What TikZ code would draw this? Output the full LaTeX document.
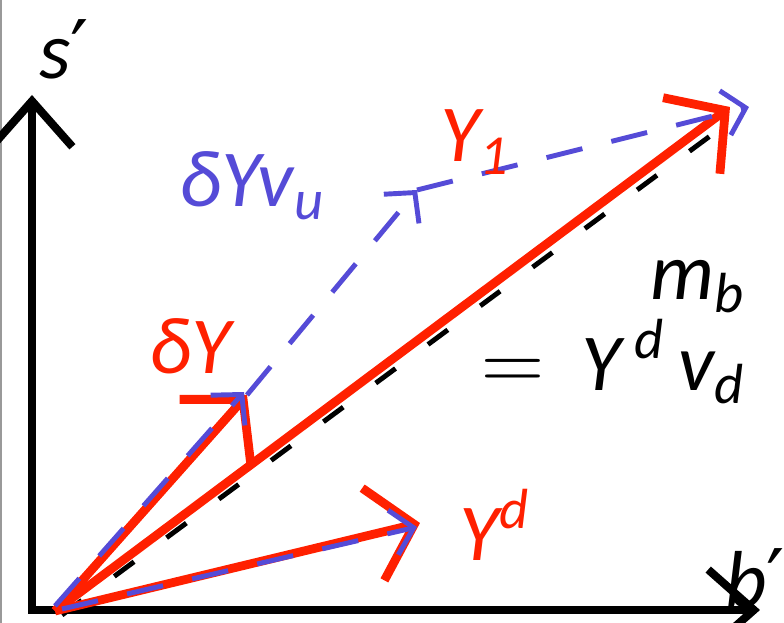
\documentclass[tikz,border=0pt]{standalone}
\usepackage{fontspec}
\setmainfont{Carlito}
\newfontfamily\primefont{DejaVu Sans}
\usetikzlibrary{arrows.meta}

\definecolor{vecred}{RGB}{255,32,0}
\definecolor{vecblue}{RGB}{85,75,215}

\newcommand{\prm}{{\primefont\upshape ′}}

\begin{document}
\begin{tikzpicture}[
  axis/.style={line width=2.3pt, line join=miter,
    {Straight Barb[length=13pt, width=23pt]}-{Straight Barb[length=13pt, width=23pt]}},
  redvec/.style={vecred, line width=2.5pt, -{Straight Barb[length=12pt, width=27pt]}},
  bluevec/.style={vecblue, line width=1.4pt, dash pattern=on 10.5pt off 8.5pt,
    -{Straight Barb[length=6pt, width=13pt]}},
  mbline/.style={black, line width=1.4pt, dash pattern=on 7pt off 11.5pt},
  lbl/.style={font=\fontsize{23}{26}\selectfont\itshape, inner sep=0pt}
]
\useasboundingbox (0,0) rectangle (7.84,6.23);

% ── frame edge ──
\draw[black!40, line width=0.6pt] (0.01,0) -- (0.01,6.23);

% ── Points ──
\coordinate (O)    at (0.32,0.13);
\coordinate (sTop) at (0.32,5.28);
\coordinate (bEnd) at (7.60,0.13);
\coordinate (R)    at (0.55,0.12);
\coordinate (tipY1) at (7.30,5.16);
\coordinate (tipdY) at (2.47,2.28);
\coordinate (tipYd) at (4.20,1.00);
\coordinate (P)     at (4.17,4.33);
\coordinate (endY1) at (7.49,5.16);
\coordinate (mbA) at (0.62,0.08);
\coordinate (mbB) at (7.25,4.98);
\coordinate (bdA) at (0.55,0.17);
\coordinate (bdB) at (2.44,2.31);
\coordinate (byA) at (0.62,0.14);
\coordinate (byB) at (4.17,0.96);

% ── Axes ──
\draw[axis] (sTop) -- (O) -- (bEnd);
\node[lbl, black] (sLbl) at (0.64,5.74) {s\prm};
\node[lbl, black] (bLbl) at (7.55,0.45) {b\prm};

% ── m_b = Y^d v_d (under Y_1) ──
\draw[mbline] (mbA) -- (mbB);

% ── Red vectors ──
\draw[redvec] (R) -- (tipY1);
\draw[redvec] (R) -- (tipdY);
\draw[redvec] (R) -- (tipYd);

% ── Blue vectors ──
\draw[bluevec] (bdA) -- (bdB);
\draw[bluevec] (byA) -- (byB);
\draw[bluevec] (tipdY) -- (P);
\draw[bluevec] (P) -- (endY1);

% ── Labels ──
\node[lbl, vecred]  (dYLbl)   at (1.90,2.77) {δY};
\node[lbl, vecblue] (dYvuLbl) at (2.52,4.37) {δYv\textsubscript{u}};
\node[lbl, vecred]  (Y1Lbl)   at (4.75,4.81) {Y\textsubscript{1}};
\node[lbl, vecred]  (YdLbl)   at (4.95,0.98) {Y\textsuperscript{d}};
\node[lbl, black, align=right, anchor=east] (mbLbl) at (7.46,2.91)
  {m\textsubscript{b}\\$=$\hspace{0.45em}Y\,\textsuperscript{d}\,v\textsubscript{d}};

\end{tikzpicture}
\end{document}
